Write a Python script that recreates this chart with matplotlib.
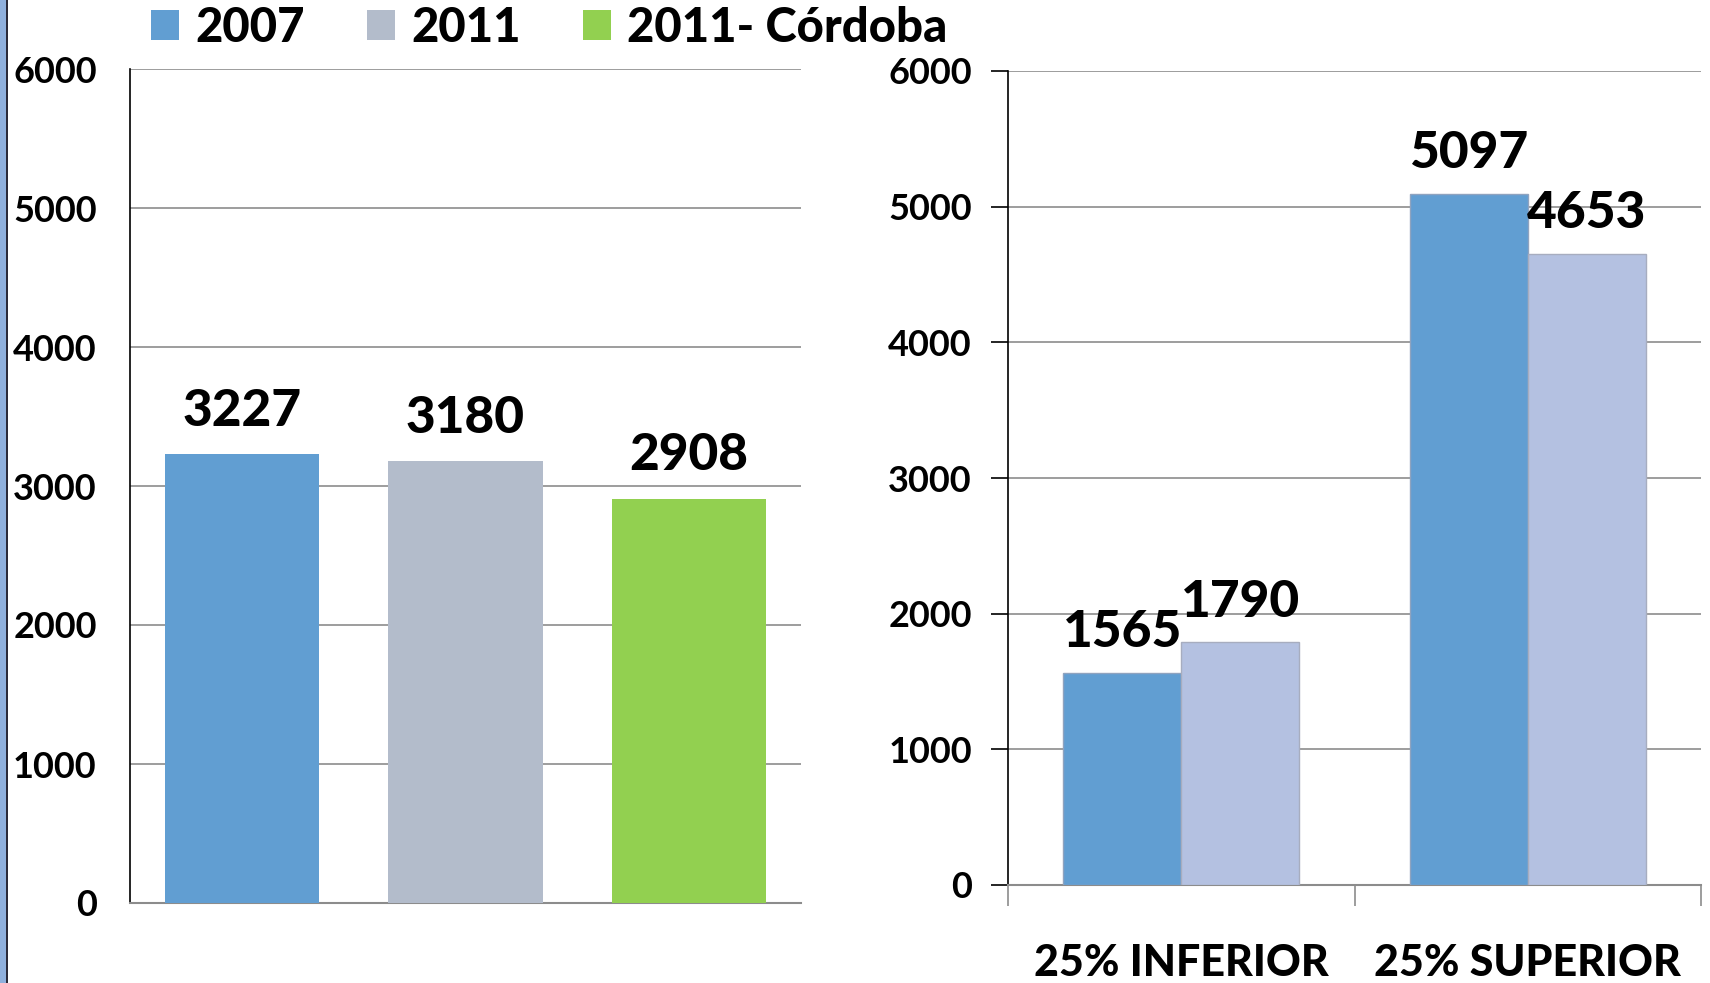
import matplotlib
matplotlib.use('Agg')
import matplotlib.pyplot as plt
from matplotlib.patches import Rectangle

plt.rcParams['font.family'] = ['Lato', 'DejaVu Sans']
plt.rcParams['font.weight'] = 'bold'

# left chart
years = ['2007', '2011', '2011- Córdoba']
totals = [3227, 3180, 2908]
# right chart
groups = ['25% INFERIOR', '25% SUPERIOR']
vals_2007 = [1565, 5097]
vals_2011 = [1790, 4653]
yticks = [0, 1000, 2000, 3000, 4000, 5000, 6000]

blue = '#619ed2'
gray = '#b3bccb'
green = '#92d050'
lav = '#b4c1e1'
grid_c = '#8c8c8c'

fig = plt.figure(figsize=(17.1, 9.83), dpi=100)
fig.patch.set_facecolor('white')

# blue strip on the left edge
fig.patches.append(Rectangle((0, 0), 6 / 1710, 1, transform=fig.transFigure,
                             facecolor='#8fb0dd', edgecolor='none'))
fig.patches.append(Rectangle((6 / 1710, 0), 1.5 / 1710, 1, transform=fig.transFigure,
                             facecolor='#2b2b3a', edgecolor='none'))

# ---- left axes
ax1 = fig.add_axes([130 / 1710, 80 / 983, 671 / 1710, 834 / 983])
cols = [blue, gray, green]
for i in range(len(years)):
    ax1.bar(i, totals[i], width=0.69, color=cols[i], label=years[i], zorder=3)
    ax1.text(i, totals[i] + 140, str(totals[i]), ha='center', va='bottom',
             fontsize=37, fontweight='black')
ax1.set_xlim(-0.5, 2.5)
ax1.set_ylim(0, 6000)
ax1.set_yticks(yticks)
ax1.set_xticks([])
ax1.tick_params(axis='y', length=0, pad=24, labelsize=26)
ax1.grid(axis='y', color=grid_c, lw=1.2, zorder=0)
for s in ['top', 'right']:
    ax1.spines[s].set_visible(False)
ax1.spines['bottom'].set_color(grid_c)
ax1.spines['bottom'].set_linewidth(1.5)
ax1.spines['left'].set_color('black')
ax1.spines['left'].set_linewidth(1.2)

# ---- right axes
ax2 = fig.add_axes([1008 / 1710, 98 / 983, 693 / 1710, 814 / 983])
w = 0.34
for j in range(len(groups)):
    ax2.bar(j - w / 2, vals_2007[j], width=w, color=blue, edgecolor='#8fa3bf', lw=1, zorder=3)
    ax2.bar(j + w / 2, vals_2011[j], width=w, color=lav, edgecolor='#a7adbf', lw=1, zorder=3)
    ax2.text(j - w / 2, vals_2007[j] + 120, str(vals_2007[j]), ha='center', va='bottom',
             fontsize=37, fontweight='black', zorder=4)
    ax2.text(j + w / 2, vals_2011[j] + 120, str(vals_2011[j]), ha='center', va='bottom',
             fontsize=37, fontweight='black', zorder=4)
ax2.set_xlim(-0.5, 1.5)
ax2.set_ylim(0, 6000)
ax2.set_yticks(yticks)
ax2.set_xticks([0, 1])
ax2.set_xticklabels(groups, fontsize=31, fontweight='black')
ax2.set_xticks([-0.5, 0.5, 1.5], minor=True)
ax2.tick_params(axis='x', which='major', length=0, pad=42)
ax2.tick_params(axis='x', which='minor', length=15, color=grid_c, width=1.2)
ax2.tick_params(axis='y', length=12, pad=14, labelsize=26, width=1.2)
ax2.grid(axis='y', color=grid_c, lw=1.2, zorder=0)
for s in ['top', 'right']:
    ax2.spines[s].set_visible(False)
ax2.spines['bottom'].set_color(grid_c)
ax2.spines['bottom'].set_linewidth(1.5)
ax2.spines['left'].set_color('black')
ax2.spines['left'].set_linewidth(1.2)

h, l = ax1.get_legend_handles_labels()
fig.legend(h, l, loc='center left', bbox_to_anchor=(151 / 1710, 1 - 28 / 983),
           ncol=3, frameon=False, prop={'size': 34, 'weight': 'black'},
           handlelength=0.6, handleheight=0.6,
           handletextpad=0.35, columnspacing=1.3, borderaxespad=0, borderpad=0)

fig.savefig('out.png', dpi=100)
